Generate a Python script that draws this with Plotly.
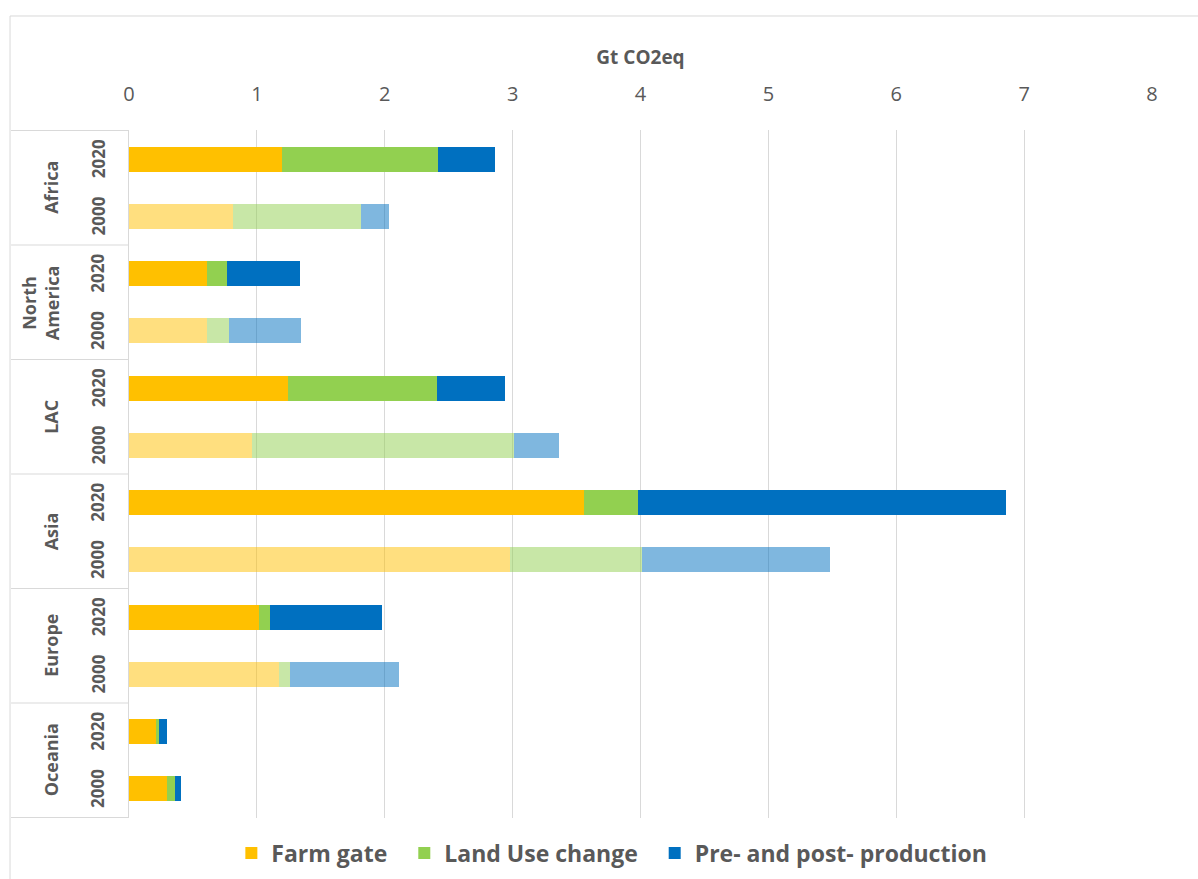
import plotly.graph_objects as go

regions = ["Africa", "North America", "LAC", "Asia", "Europe", "Oceania"]
region_labels = ["Africa", "North<br>America", "LAC", "Asia", "Europe", "Oceania"]
years = ["2020", "2000"]

# values per region, order: 2020, 2000 (Gt CO2eq)
farm_gate = {
    "Africa": [1.20, 0.815], "North America": [0.61, 0.61], "LAC": [1.24, 0.96],
    "Asia": [3.56, 2.98], "Europe": [1.02, 1.175], "Oceania": [0.215, 0.30],
}
land_use = {
    "Africa": [1.22, 1.00], "North America": [0.155, 0.175], "LAC": [1.17, 2.05],
    "Asia": [0.42, 1.03], "Europe": [0.085, 0.085], "Oceania": [0.02, 0.06],
}
pre_post = {
    "Africa": [0.44, 0.22], "North America": [0.57, 0.56], "LAC": [0.53, 0.355],
    "Asia": [2.88, 1.47], "Europe": [0.87, 0.85], "Oceania": [0.065, 0.05],
}

series = [
    ("Farm gate", farm_gate, (255, 192, 0)),
    ("Land Use change", land_use, (146, 208, 80)),
    ("Pre- and post- production", pre_post, (0, 112, 192)),
]

# 2000 bars are drawn pale, except Oceania which is shown in full colour
pale_regions = ["Africa", "North America", "LAC", "Asia", "Europe"]

cats = [f"{r} {y}" for r in regions for y in years]
grey = "#595959"
font = "Open Sans"

fig = go.Figure()
for idx, (name, d, (r, g, b)) in enumerate(series):
    vals, cols = [], []
    for reg in regions:
        for k, y in enumerate(years):
            vals.append(d[reg][k])
            pale = (y == "2000" and reg in pale_regions)
            cols.append(f"rgba({r},{g},{b},0.5)" if pale else f"rgb({r},{g},{b})")
    label = f"<b>{name}</b>" + ("&nbsp;&nbsp;" if idx < len(series) - 1 else "")
    fig.add_trace(go.Bar(
        x=vals, y=cats, orientation="h", name=label,
        marker=dict(color=cols, line=dict(width=0)),
    ))

px0 = -0.1153
shapes = []
for i in range(len(regions) + 1):
    shapes.append(dict(type="line", xref="paper", yref="y", x0=px0, x1=0,
                       y0=2 * i - 0.5, y1=2 * i - 0.5,
                       line=dict(color="#D9D9D9", width=1)))
# outer chart frame
shapes.append(dict(type="rect", xref="paper", yref="paper", x0=-0.1163, x1=1.2,
                   y0=-0.3, y1=1.1657, line=dict(color="#D9D9D9", width=1), layer="below"))

annotations = []
for i, lab in enumerate(region_labels):
    xpos = -0.0870 if "<br>" in lab else -0.0762
    annotations.append(dict(text=f"<b>{lab}</b>", x=xpos, xref="paper", xanchor="center",
                            y=2 * i + 0.5, yref="y", yanchor="middle",
                            textangle=-90, showarrow=False,
                            font=dict(family=font, size=18, color=grey)))
    for k, y in enumerate(years):
        annotations.append(dict(text=f"<b>{y}</b>", x=-0.0303, xref="paper", xanchor="center",
                                y=2 * i + k, yref="y", yanchor="middle",
                                textangle=-90, showarrow=False,
                                font=dict(family=font, size=17, color=grey)))

fig.update_layout(
    width=1198, height=879,
    margin=dict(l=129, r=46, t=130, b=61, autoexpand=False),
    paper_bgcolor="white", plot_bgcolor="white",
    barmode="stack", bargap=0.56,
    font=dict(family=font, color=grey),
    xaxis=dict(side="top", range=[0, 8], dtick=1, showgrid=True, gridcolor="#D9D9D9",
               gridwidth=1, zeroline=False, showline=False, ticks="", automargin=False,
               ticklabelstandoff=24,
               tickfont=dict(size=20, color=grey, family=font),
               title=dict(text="<b>Gt CO2eq</b>", font=dict(size=19, color=grey, family=font), standoff=10)),
    yaxis=dict(type="category", categoryarray=cats, autorange="reversed", automargin=False,
               showticklabels=False, showgrid=False, zeroline=False,
               showline=True, linecolor="#D9D9D9", linewidth=1, ticks=""),
    legend=dict(orientation="h", x=0.472, xanchor="center", y=-0.051, yanchor="middle",
                font=dict(size=23, color=grey, family=font), itemwidth=30,
                traceorder="normal"),
    shapes=shapes, annotations=annotations,
)

fig.write_html("out.html")
